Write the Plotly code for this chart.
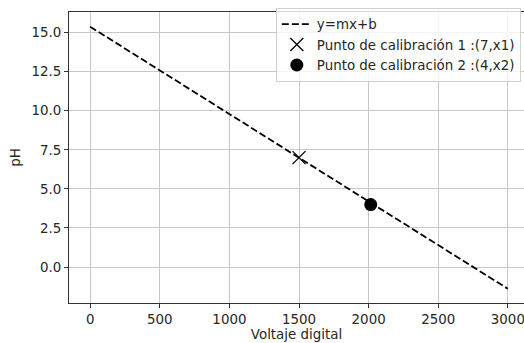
import plotly.graph_objects as go

# Data
line_x = [0, 3000]
line_y = [15.38, -1.39]
cal1_x = [1500]
cal1_y = [7.0]
cal2_x = [2015]
cal2_y = [4.0]
x_ticks = [0, 500, 1000, 1500, 2000, 2500, 3000]
y_ticks = [0.0, 2.5, 5.0, 7.5, 10.0, 12.5, 15.0]

FONT = "DejaVu Sans"
FS = 13.4
TXT = "#262626"

fig = go.Figure()
fig.add_trace(go.Scatter(
    x=line_x, y=line_y, mode="lines", name="y=mx+b",
    line=dict(color="black", width=1.8, dash="7px,3px"),
))
fig.add_trace(go.Scatter(
    x=cal1_x, y=cal1_y, mode="markers", name="Punto de calibración 1 :(7,x1)",
    marker=dict(symbol="x-thin-open", size=13, color="black",
                line=dict(color="black", width=1.3)),
))
fig.add_trace(go.Scatter(
    x=cal2_x, y=cal2_y, mode="markers", name="Punto de calibración 2 :(4,x2)",
    marker=dict(symbol="circle", size=13, color="black"),
))

axis_common = dict(
    showgrid=True, gridcolor="#c8c8c8", gridwidth=1,
    showline=True, linecolor="#333333", linewidth=1, mirror=True,
    ticks="outside", ticklen=4, tickcolor="#333333", tickwidth=1,
    zeroline=False, automargin=False, ticklabeloverflow="allow",
    tickfont=dict(family=FONT, size=FS, color=TXT),
)

fig.update_layout(
    template="none",
    width=524, height=343,
    margin=dict(l=69, r=0, t=12, b=40),
    paper_bgcolor="white", plot_bgcolor="white",
    font=dict(family=FONT, size=FS, color=TXT),
    xaxis=dict(range=[-152, 3116], tickvals=x_ticks,
               ticktext=[str(v) for v in x_ticks],
               title=dict(text="Voltaje digital", standoff=1,
                          font=dict(family=FONT, size=FS, color=TXT)),
               **axis_common),
    yaxis=dict(range=[-2.30, 16.32], tickvals=y_ticks,
               ticktext=[f"{v:.1f}" for v in y_ticks],
               title=dict(text="pH", standoff=7,
                          font=dict(family=FONT, size=FS, color=TXT)),
               **axis_common),
    legend=dict(
        x=0.993, y=1.014, xanchor="right", yanchor="top",
        bgcolor="rgba(255,255,255,0.8)", bordercolor="#d0d0d0", borderwidth=1,
        font=dict(family=FONT, size=FS, color=TXT),
        tracegroupgap=0, itemwidth=30,
    ),
    showlegend=True,
)

fig.write_html("out.html", config={"displayModeBar": False},
               post_script="document.body.style.margin='0';document.body.style.overflow='hidden';")
